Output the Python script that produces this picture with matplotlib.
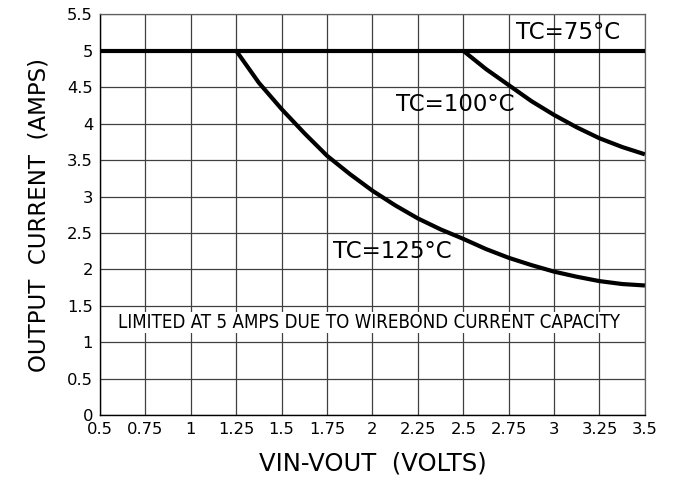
import matplotlib
matplotlib.use("Agg")
import matplotlib.pyplot as plt

# Data
x_ticks = [0.5, 0.75, 1, 1.25, 1.5, 1.75, 2, 2.25, 2.5, 2.75, 3, 3.25, 3.5]
x_tick_labels = ["0.5", "0.75", "1", "1.25", "1.5", "1.75", "2", "2.25", "2.5", "2.75", "3", "3.25", "3.5"]
y_ticks = [0, 0.5, 1, 1.5, 2, 2.5, 3, 3.5, 4, 4.5, 5, 5.5]
y_tick_labels = ["0", "0.5", "1", "1.5", "2", "2.5", "3", "3.5", "4", "4.5", "5", "5.5"]

tc75_x = [0.5, 3.5]
tc75_y = [5.0, 5.0]

tc100_x = [2.5, 2.625, 2.75, 2.875, 3.0, 3.125, 3.25, 3.375, 3.5]
tc100_y = [5.0, 4.75, 4.53, 4.31, 4.12, 3.95, 3.80, 3.68, 3.58]

tc125_x = [1.25, 1.375, 1.5, 1.625, 1.75, 1.875, 2.0, 2.125, 2.25, 2.375, 2.5,
           2.625, 2.75, 2.875, 3.0, 3.125, 3.25, 3.375, 3.5]
tc125_y = [5.0, 4.56, 4.2, 3.87, 3.56, 3.31, 3.08, 2.88, 2.70, 2.55, 2.42,
           2.28, 2.16, 2.06, 1.97, 1.90, 1.84, 1.80, 1.78]

fig = plt.figure(figsize=(6.76, 4.8), dpi=100)
ax = fig.add_axes([0.148, 0.135, 0.806, 0.835])
ax.set_xlim(0.5, 3.5)
ax.set_ylim(0, 5.5)
ax.set_xticks(x_ticks)
ax.set_xticklabels(x_tick_labels)
ax.set_yticks(y_ticks)
ax.set_yticklabels(y_tick_labels)
ax.tick_params(length=0, labelsize=11.8, pad=5)
ax.grid(True, color="#404040", lw=0.9)
ax.set_axisbelow(True)
for s in ["top", "right"]:
    ax.spines[s].set_color("#606060")
    ax.spines[s].set_linewidth(0.9)
for s in ["left", "bottom"]:
    ax.spines[s].set_color("black")
    ax.spines[s].set_linewidth(1.0)

lw = 3.0
ax.plot(tc75_x, tc75_y, color="black", lw=lw, solid_capstyle="butt", zorder=3)
ax.plot(tc100_x, tc100_y, color="black", lw=lw, solid_capstyle="butt", zorder=3)
ax.plot(tc125_x, tc125_y, color="black", lw=lw, solid_capstyle="butt", zorder=3)

ax.text(2.79, 5.25, "TC=75°C", fontsize=16.5, ha="left", va="center", zorder=4)
ax.text(2.127, 4.26, "TC=100°C", fontsize=16.5, ha="left", va="center", zorder=4)
ax.text(1.78, 2.24, "TC=125°C", fontsize=16.5, ha="left", va="center", zorder=4)
ax.text(1.98, 1.27, "LIMITED AT 5 AMPS DUE TO WIREBOND CURRENT CAPACITY",
        fontsize=13.4, ha="center", va="center", zorder=4,
        fontstretch="condensed",
        bbox=dict(facecolor="white", edgecolor="none", pad=1.0))

ax.set_xlabel("VIN-VOUT  (VOLTS)", fontsize=17.5, labelpad=10)
ax.set_ylabel("OUTPUT  CURRENT  (AMPS)", fontsize=16.5, labelpad=12)

fig.savefig("out.png", dpi=100)
